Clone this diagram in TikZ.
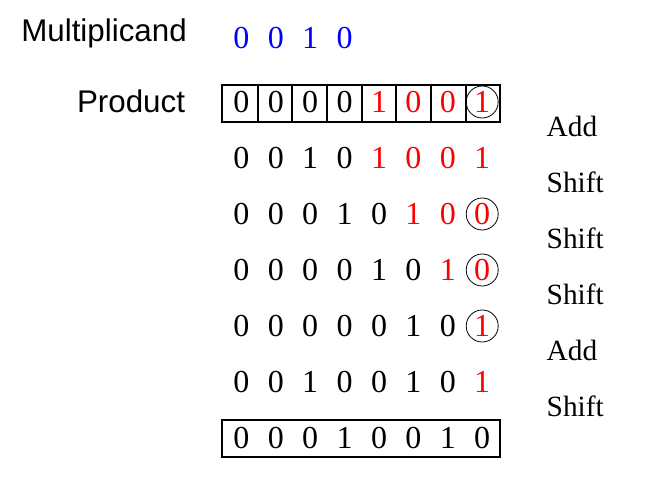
\documentclass[tikz,border=0pt]{standalone}
\usepackage{fontspec}
\setmainfont{Liberation Serif}
\newfontfamily\labelfont{Liberation Sans}
\usepackage{xcolor}
\begin{document}
\begin{tikzpicture}[x=0.75pt,y=-0.75pt,
  bit/.style={font=\fontsize{24}{24}\selectfont,inner sep=0pt},
  redbit/.style={bit,text=red},
  bluebit/.style={bit,text=blue},
  action/.style={font=\fontsize{22}{22}\selectfont,anchor=west},
  title/.style={font=\labelfont\fontsize{23.5}{23.5}\selectfont}]
    \useasboundingbox (0,0) rectangle (668,502);
    % labels on the left
    \node[title] (mcand) at (104,33) {Multiplicand};
    \node[title] (prod) at (131,101) {Product};
    % multiplicand bits
    \foreach \b [count=\i] in {0,0,1,0}
    \node[bluebit] (m\i) at (207+34.4*\i,38) {\b};
    % product rows: bits and number of red bits at the right
    \foreach \bits/\nred [count=\r] in {
        {0,0,0,0,1,0,0,1}/4,
        {0,0,1,0,1,0,0,1}/4,
        {0,0,0,1,0,1,0,0}/3,
        {0,0,0,0,1,0,1,0}/2,
        {0,0,0,0,0,1,0,1}/1,
        {0,0,1,0,0,1,0,1}/1,
        {0,0,0,1,0,0,1,0}/0}
    \foreach \b [count=\i] in \bits {
        \pgfmathtruncatemacro{\isred}{\i>8-\nred ? 1 : 0}
        \ifnum\isred=1
        \node[redbit] (p\r-\i) at (207+34.4*\i,46+56*\r) {\b};
        \else
        \node[bit] (p\r-\i) at (207+34.4*\i,46+56*\r) {\b};
        \fi
    };
    % registers
    \draw[thick] (222,85) rectangle (500,122);
    \foreach \x in {258,292,327,362,396,431,466}
    \draw[thick] (\x,85) -- (\x,122);
    \draw[thick] (222,420) rectangle (500,457);
    % tested bits
    \foreach \r in {1,3,4,5}
    \draw[semithick] (p\r-8) circle (16);
    % steps
    \node[action] (s1) at (542,126) {Add};
    \node[action] (s2) at (542,182) {Shift};
    \node[action] (s3) at (542,238) {Shift};
    \node[action] (s4) at (542,294) {Shift};
    \node[action] (s5) at (542,350) {Add};
    \node[action] (s6) at (542,406) {Shift};
\end{tikzpicture}
\end{document}
